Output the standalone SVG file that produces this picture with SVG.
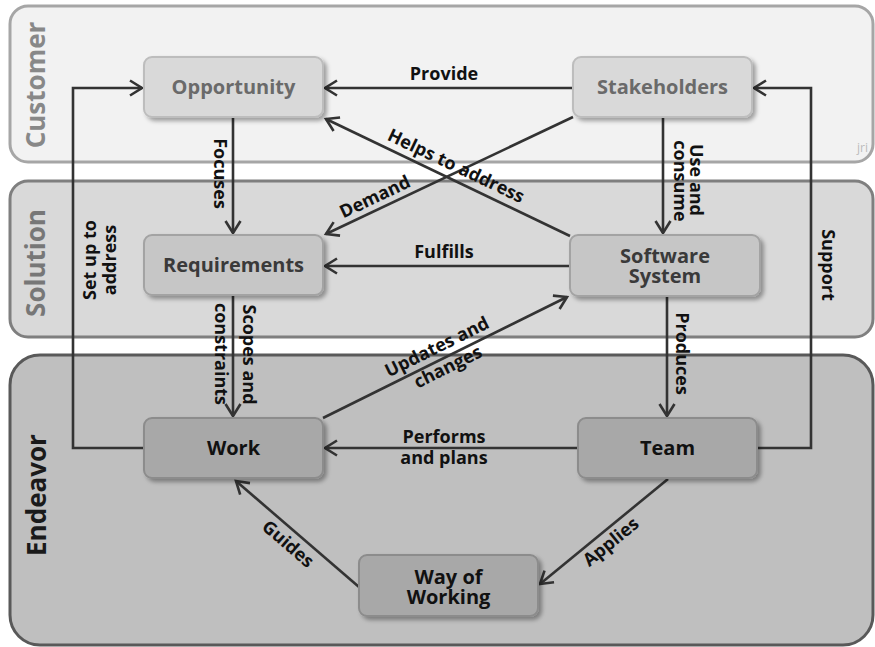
<svg xmlns="http://www.w3.org/2000/svg" width="875" height="647" viewBox="0 0 875 647">
<defs>
<style>
text{font-family:"Open Sans","Liberation Sans",sans-serif;font-weight:bold}
.band{stroke-width:3}
.lbl{font-size:26px;text-anchor:middle}
.node rect{stroke-width:2;rx:8;ry:8}
.nt{font-size:20px;text-anchor:middle}
.el{font-size:18px;fill:#111;text-anchor:middle}
.c path{fill:none;stroke:#333;stroke-width:2.6;marker-end:url(#arr)}
</style>
<marker id="arr" markerUnits="userSpaceOnUse" markerWidth="16" markerHeight="20" viewBox="-13 -9 16 18" refX="0" refY="0" orient="auto">
<path d="M-12,-7.5 L0,0 L-12,7.5" fill="none" stroke="#333" stroke-width="2.6"/>
</marker>
<filter id="sh" x="-10%" y="-20%" width="130%" height="150%">
<feDropShadow dx="3" dy="3" stdDeviation="2" flood-color="#000" flood-opacity="0.35"/>
</filter>
</defs>
<rect width="875" height="647" fill="#fff"/>
<g id="band-customer">
<rect class="band" x="10" y="6" width="863" height="156" rx="18" fill="#f2f2f2" stroke="#a6a6a6"/>
<text class="lbl" transform="translate(36,85) rotate(-90)" y="9" fill="#888">Customer</text>
<text x="857" y="152" font-size="12" fill="#bbb" style="font-weight:normal">jri</text>
</g>
<g id="band-solution">
<rect class="band" x="10" y="181" width="863" height="156" rx="18" fill="#d9d9d9" stroke="#7f7f7f"/>
<text class="lbl" transform="translate(36,263) rotate(-90)" y="9" fill="#777">Solution</text>
</g>
<g id="band-endeavor">
<rect class="band" x="10" y="355" width="863" height="290" rx="30" fill="#bfbfbf" stroke="#595959"/>
<text class="lbl" transform="translate(37,495) rotate(-90)" y="9" fill="#1a1a1a">Endeavor</text>
</g>
<g id="connectors" class="c">
<path d="M573,88 L325,88"/>
<path d="M233,117 L233,233"/>
<path d="M663,117 L663,233"/>
<path d="M573,117 L326,234"/>
<path d="M570,236 L326,119"/>
<path d="M570,266 L325,266"/>
<path d="M233,295 L233,416"/>
<path d="M667,296 L667,416"/>
<path d="M578,448 L325,448"/>
<path d="M323,418 L567,297"/>
<path d="M757,448 H811 V88 H754"/>
<path d="M144,448 H73 V88 H142"/>
<path d="M359,587 L236,481"/>
<path d="M668,479 L540,584"/>
</g>
<g id="edge-labels">
<text class="el" x="444" y="80">Provide</text>
<text class="el" transform="translate(220,173.5) rotate(90)" y="6">Focuses</text>
<text class="el" transform="translate(696,180) rotate(90)" y="6">Use and</text>
<text class="el" transform="translate(680,181) rotate(90)" y="6">consume</text>
<text class="el" transform="translate(375,197) rotate(-25.3)" y="6">Demand</text>
<text class="el" transform="translate(456,166) rotate(25.4)" y="6">Helps to address</text>
<text class="el" x="444" y="258">Fulfills</text>
<text class="el" transform="translate(90,260) rotate(-90)" y="6">Set up to</text>
<text class="el" transform="translate(110,260) rotate(-90)" y="6">address</text>
<text class="el" transform="translate(249,354.5) rotate(90)" y="6">Scopes and</text>
<text class="el" transform="translate(221,354) rotate(90)" y="6">constraints</text>
<text class="el" transform="translate(682,353.5) rotate(90)" y="6">Produces</text>
<text class="el" transform="translate(828,265) rotate(90)" y="6">Support</text>
<text class="el" transform="translate(437,347) rotate(-26.3)" y="6">Updates and</text>
<text class="el" transform="translate(448,367) rotate(-26.3)" y="6">changes</text>
<text class="el" x="444" y="443">Performs<tspan x="444" y="464">and plans</tspan></text>
<text class="el" transform="translate(288,544) rotate(40.8)" y="6">Guides</text>
<text class="el" transform="translate(611,542) rotate(-39)" y="6">Applies</text>
</g>
<g id="opportunity" class="node">
<rect x="144" y="57" width="179" height="60" fill="#d9d9d9" stroke="#bdbdbd" filter="url(#sh)"/>
<text class="nt" x="233.5" y="94" fill="#6a6a6a">Opportunity</text>
</g>
<g id="stakeholders" class="node">
<rect x="573" y="57" width="179" height="60" fill="#d9d9d9" stroke="#bdbdbd" filter="url(#sh)"/>
<text class="nt" x="662.5" y="94" fill="#6a6a6a">Stakeholders</text>
</g>
<g id="requirements" class="node">
<rect x="144" y="235" width="179" height="60" fill="#c6c6c6" stroke="#a3a3a3" filter="url(#sh)"/>
<text class="nt" x="233.5" y="272" fill="#3a3a3a">Requirements</text>
</g>
<g id="software-system" class="node">
<rect x="570" y="235" width="190" height="61" fill="#c6c6c6" stroke="#a3a3a3" filter="url(#sh)"/>
<text class="nt" x="665" y="263" fill="#3a3a3a">Software<tspan x="665" y="283">System</tspan></text>
</g>
<g id="work" class="node">
<rect x="144" y="418" width="179" height="60" fill="#a8a8a8" stroke="#8c8c8c" filter="url(#sh)"/>
<text class="nt" x="233.5" y="455" fill="#111">Work</text>
</g>
<g id="team" class="node">
<rect x="578" y="418" width="179" height="60" fill="#a8a8a8" stroke="#8c8c8c" filter="url(#sh)"/>
<text class="nt" x="667.5" y="455" fill="#111">Team</text>
</g>
<g id="way-of-working" class="node">
<rect x="359" y="555" width="179" height="61" fill="#a8a8a8" stroke="#8c8c8c" filter="url(#sh)"/>
<text class="nt" x="448.5" y="584" fill="#111">Way of<tspan x="448.5" y="604">Working</tspan></text>
</g>
</svg>
